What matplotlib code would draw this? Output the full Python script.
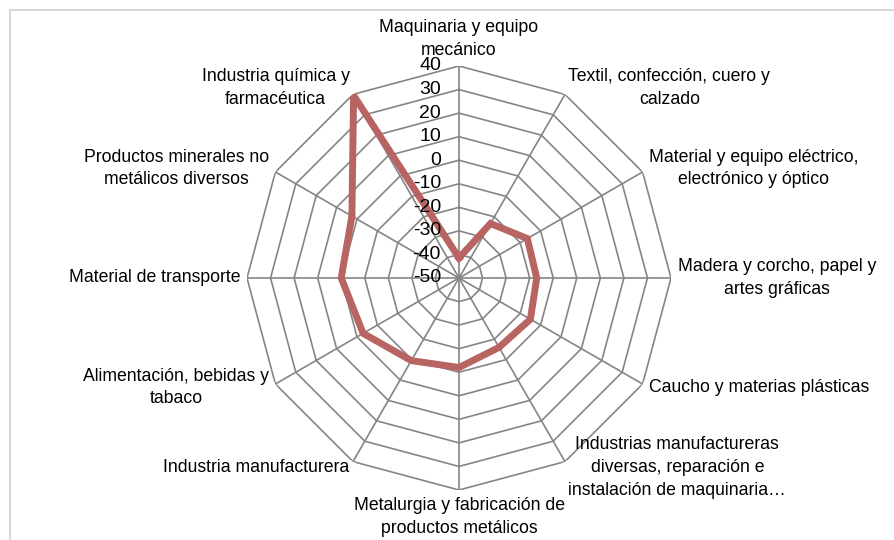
import numpy as np
import matplotlib.pyplot as plt
from matplotlib import font_manager
from matplotlib.lines import Line2D

categories = [
    "Maquinaria y equipo\nmecánico",
    "Textil, confección, cuero y\ncalzado",
    "Material y equipo eléctrico,\nelectrónico y óptico",
    "Madera y corcho, papel y\nartes gráficas",
    "Caucho y materias plásticas",
    "Industrias manufactureras\ndiversas, reparación e\ninstalación de maquinaria…",
    "Metalurgia y fabricación de\nproductos metálicos",
    "Industria manufacturera",
    "Alimentación, bebidas y\ntabaco",
    "Material de transporte",
    "Productos minerales no\nmetálicos diversos",
    "Industria química y\nfarmacéutica",
]
values = [-41.5, -23.3, -16.5, -17, -15, -16, -12, -9.5, -3, 0, 2.5, 39.5]
ticks = [-50, -40, -30, -20, -10, 0, 10, 20, 30, 40]

names = {f.name for f in font_manager.fontManager.ttflist}
if "Liberation Sans Narrow" in names:
    fam, fs, tfs = "Liberation Sans Narrow", 14.5, 15
else:
    fam, fs, tfs = "Liberation Sans", 12.7, 14
plt.rcParams["font.family"] = [fam, "DejaVu Sans"]

W, H = 895, 540
fig = plt.figure(figsize=(W / 100, H / 100), dpi=100)
cx, cy, rad = 459, 278, 212
ax = fig.add_axes([(cx - rad) / W, (H - cy - rad) / H, 2 * rad / W, 2 * rad / H],
                  projection="polar")
ax.set_theta_zero_location("N")
ax.set_theta_direction(-1)
ax.set_ylim(ticks[0], ticks[-1])
ax.grid(False)
ax.spines["polar"].set_visible(False)
ax.set_xticks([])
ax.set_yticks([])
ax.patch.set_alpha(0)

n = len(categories)
angles = np.linspace(0, 2 * np.pi, n, endpoint=False)
closed = np.append(angles, angles[0])
grid_col = "#858585"

for t in ticks[1:]:
    ax.plot(closed, [t] * (n + 1), color=grid_col, lw=1.2, zorder=1)
for a in angles:
    ax.plot([a, a], [ticks[0], ticks[-1]], color=grid_col, lw=1.2, zorder=1)

ax.plot(closed, values + values[:1], color="#b86462", lw=5, zorder=3,
        solid_joinstyle="miter")

for t in ticks:
    ax.annotate(str(t), xy=(0, t), xytext=(-13, 0), textcoords="offset points",
                ha="right", va="center", fontsize=tfs, color="black", zorder=4)

for a, lab in zip(angles, categories):
    s, c = np.sin(a), np.cos(a)
    if abs(s) < 1e-6:
        ha = "center"
        va = "bottom" if c > 0 else "top"
    else:
        ha = "left" if s > 0 else "right"
        va = "center"
    ax.annotate(lab, xy=(a, ticks[-1]), xytext=(5 * s, 5 * c),
                textcoords="offset points", ha=ha, va=va, ma="center",
                fontsize=fs, linespacing=1.45, color="black",
                annotation_clip=False)

fig.add_artist(Line2D([10 / W, 10 / W], [0, 1 - 10 / H], color="#d0d0d0", lw=1.2))
fig.add_artist(Line2D([10 / W, 1], [1 - 10 / H, 1 - 10 / H], color="#d0d0d0", lw=1.2))

fig.savefig("out.png", dpi=100)
